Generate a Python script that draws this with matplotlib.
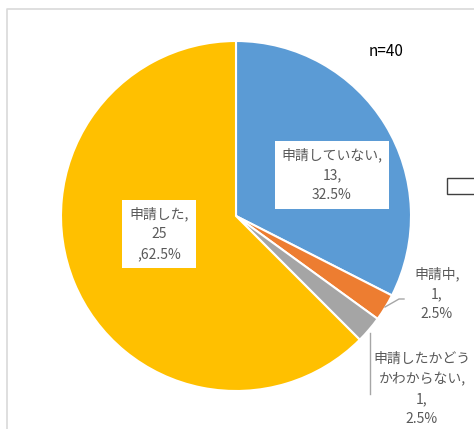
import matplotlib.pyplot as plt
from matplotlib.patches import Rectangle

plt.rcParams['font.family'] = ['Noto Sans CJK JP', 'DejaVu Sans']

labels = ["申請していない", "申請中", "申請したかどう\nかわからない", "申請した"]
counts = [13, 1, 1, 25]
colors = ["#5B9BD5", "#ED7D31", "#A5A5A5", "#FFC000"]
n_total = sum(counts)

W, H = 474, 429
fig = plt.figure(figsize=(W / 100, H / 100), dpi=100)
ax = fig.add_axes([0, 0, 1, 1])

def py(y):
    return H - y

ax.pie(counts, colors=colors, startangle=90, counterclock=False,
       center=(236, py(216)), radius=175,
       wedgeprops=dict(edgecolor="white", linewidth=1.5))
ax.set_xlim(0, W)
ax.set_ylim(0, H)
ax.set_aspect("auto")
ax.axis("off")

# chart frame (cropped screenshot)
ax.plot([7, 7, W], [0, py(9), py(9)], color="#D9D9D9", lw=1.2, clip_on=False)

pct = [c / n_total * 100 for c in counts]
tcol = "#595959"
fs = 10
ls = 1.55
box = dict(boxstyle="square,pad=0.5", facecolor="white", edgecolor="none")

ax.text(332, py(175), f"{labels[0]},\n{counts[0]},\n{pct[0]:.1f}%", ha="center", va="center",
        color=tcol, fontsize=fs, linespacing=ls, bbox=box)
ax.text(159, py(234), f"{labels[3]},\n{counts[3]}\n,{pct[3]:.1f}%", ha="center", va="center",
        color=tcol, fontsize=fs, linespacing=ls, bbox=box)
ax.text(437, py(294), f"{labels[1]},\n{counts[1]},\n{pct[1]:.1f}%", ha="center", va="center",
        color=tcol, fontsize=fs, linespacing=ls)
ax.text(422, py(389), f"{labels[2]},\n{counts[2]},\n{pct[2]:.1f}%", ha="center", va="center",
        color=tcol, fontsize=fs, linespacing=ls)

# leader lines
ax.plot([385, 399, 404], [py(307), py(299), py(299)], color="#A6A6A6", lw=1)
ax.plot([370, 370], [py(333), py(394)], color="#A6A6A6", lw=1)

ax.text(369, py(51), f"n={n_total}", ha="left", va="center", color="black", fontsize=11)

# partially visible legend box
ax.add_patch(Rectangle((447, py(194)), 40, 16, facecolor="white", edgecolor="#404040",
                       lw=1, clip_on=True))

fig.savefig("out.png", dpi=100)
